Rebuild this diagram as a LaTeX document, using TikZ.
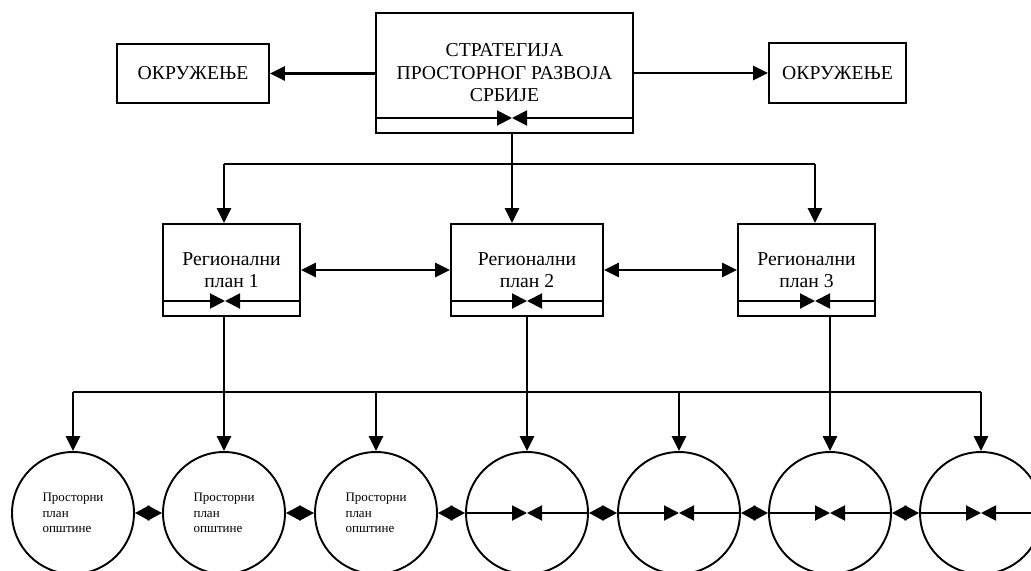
\documentclass[tikz,border=0pt]{standalone}
\usepackage{fontspec}
\setmainfont{Liberation Serif}
\usetikzlibrary{arrows.meta}

\tikzset{
  box/.style={draw, line width=1.1pt, inner sep=0pt, align=center, font=\fontsize{11.2}{12.8}\selectfont},
  plan/.style={draw, circle, line width=1.1pt, inner sep=0pt, minimum size=2.44cm, align=left, font=\fontsize{7.4}{8.8}\selectfont},
  arr/.style={line width=1.5pt, -{Triangle[length=0.3cm, width=0.28cm]}},
  darr/.style={line width=1.5pt, {Triangle[length=0.3cm, width=0.28cm]}-{Triangle[length=0.3cm, width=0.28cm]}},
  inarr/.style={line width=1.1pt, -{Triangle[length=0.3cm, width=0.3cm]}},
  dia/.style={line width=1.1pt, {Triangle[length=0.29cm, width=0.3cm]}-{Triangle[length=0.29cm, width=0.3cm]}},
  conn/.style={line width=1.1pt},
  thinline/.style={line width=0.7pt}
}

\begin{document}
\begin{tikzpicture}[x=0.02cm, y=-0.02cm]
        \clip (0,0) rectangle (1031,571);

        % Strategija i okruzenje
        \node[box, minimum width=5.14cm, minimum height=2.4cm] (strat) at (504.5,73) {СТРАТЕГИЈА\\ПРОСТОРНОГ РАЗВОЈА\\СРБИЈЕ};
        \node[box, minimum width=3.04cm, minimum height=1.18cm] (okrL) at (193,73.5) {ОКРУЖЕЊЕ};
        \node[box, minimum width=2.74cm, minimum height=1.2cm] (okrR) at (837.5,73) {ОКРУЖЕЊЕ};

        % Regionalni planovi
        \node[box, minimum width=2.74cm, minimum height=1.84cm] (reg1) at (231.5,270) {Регионални\\план 1};
        \node[box, minimum width=3.04cm, minimum height=1.84cm] (reg2) at (527,270) {Регионални\\план 2};
        \node[box, minimum width=2.74cm, minimum height=1.84cm] (reg3) at (806.5,270) {Регионални\\план 3};

        % Prostorni planovi opstina
        \node[plan] (c1) at (73,513) {Просторни\\план\\општине};
        \node[plan] (c2) at (224,513) {Просторни\\план\\општине};
        \node[plan] (c3) at (376,513) {Просторни\\план\\општине};
        \node[plan] (c4) at (527,513) {};
        \node[plan] (c5) at (679,513) {};
        \node[plan] (c6) at (830,513) {};
        \node[plan] (c7) at (981,513) {};

        % Tacke spajanja
        \coordinate (m0) at (512,118);
        \coordinate (m1) at (225,301);
        \coordinate (m2) at (527,301);
        \coordinate (m3) at (815,301);
        \coordinate (hub) at (512,164);
        \coordinate (bus) at (527,392);

        % Unutrasnje strelice
        \draw[inarr] (strat.west |- m0) -- (m0);
        \draw[inarr] (strat.east |- m0) -- (m0);
        \draw[inarr] (reg1.west |- m1) -- (m1);
        \draw[inarr] (reg1.east |- m1) -- (m1);
        \draw[inarr] (reg2.west |- m2) -- (m2);
        \draw[inarr] (reg2.east |- m2) -- (m2);
        \draw[inarr] (reg3.west |- m3) -- (m3);
        \draw[inarr] (reg3.east |- m3) -- (m3);
        \draw[inarr] (c4.west) -- (c4.center);
        \draw[inarr] (c4.east) -- (c4.center);
        \draw[inarr] (c5.west) -- (c5.center);
        \draw[inarr] (c5.east) -- (c5.center);
        \draw[inarr] (c6.west) -- (c6.center);
        \draw[inarr] (c6.east) -- (c6.center);
        \draw[inarr] (c7.west) -- (c7.center);
        \draw[inarr] (c7.east) -- (c7.center);

        % Veze gore
        \draw[arr] (strat.west |- okrL.east) -- (okrL.east);
        \draw[arr] (strat.east |- okrR.west) -- (okrR.west);
        \draw[arr] (strat.south -| m0) -- (reg2.north -| m0);
        \draw[conn] (c2 |- hub) -- (m3 |- hub);
        \draw[arr] (c2 |- hub) -- (reg1.north -| c2);
        \draw[arr] (m3 |- hub) -- (reg3.north -| m3);
        \draw[darr] (reg1.east) -- (reg2.west);
        \draw[darr] (reg2.east) -- (reg3.west);

        % Veze dole
        \draw[thinline] (reg1.south -| c2) -- (c2 |- bus);
        \draw[thinline] (reg2.south -| c4) -- (c4 |- bus);
        \draw[thinline] (reg3.south -| c6) -- (c6 |- bus);
        \draw[conn] (c1 |- bus) -- (c7 |- bus);
        \draw[arr] (c1 |- bus) -- (c1.north);
        \draw[arr] (c2 |- bus) -- (c2.north);
        \draw[arr] (c3 |- bus) -- (c3.north);
        \draw[arr] (c4 |- bus) -- (c4.north);
        \draw[arr] (c5 |- bus) -- (c5.north);
        \draw[arr] (c6 |- bus) -- (c6.north);
        \draw[arr] (c7 |- bus) -- (c7.north);
        \draw[dia] (c1.east) -- (c2.west);
        \draw[dia] (c2.east) -- (c3.west);
        \draw[dia] (c3.east) -- (c4.west);
        \draw[dia] (c4.east) -- (c5.west);
        \draw[dia] (c5.east) -- (c6.west);
        \draw[dia] (c6.east) -- (c7.west);
\end{tikzpicture}
\end{document}
